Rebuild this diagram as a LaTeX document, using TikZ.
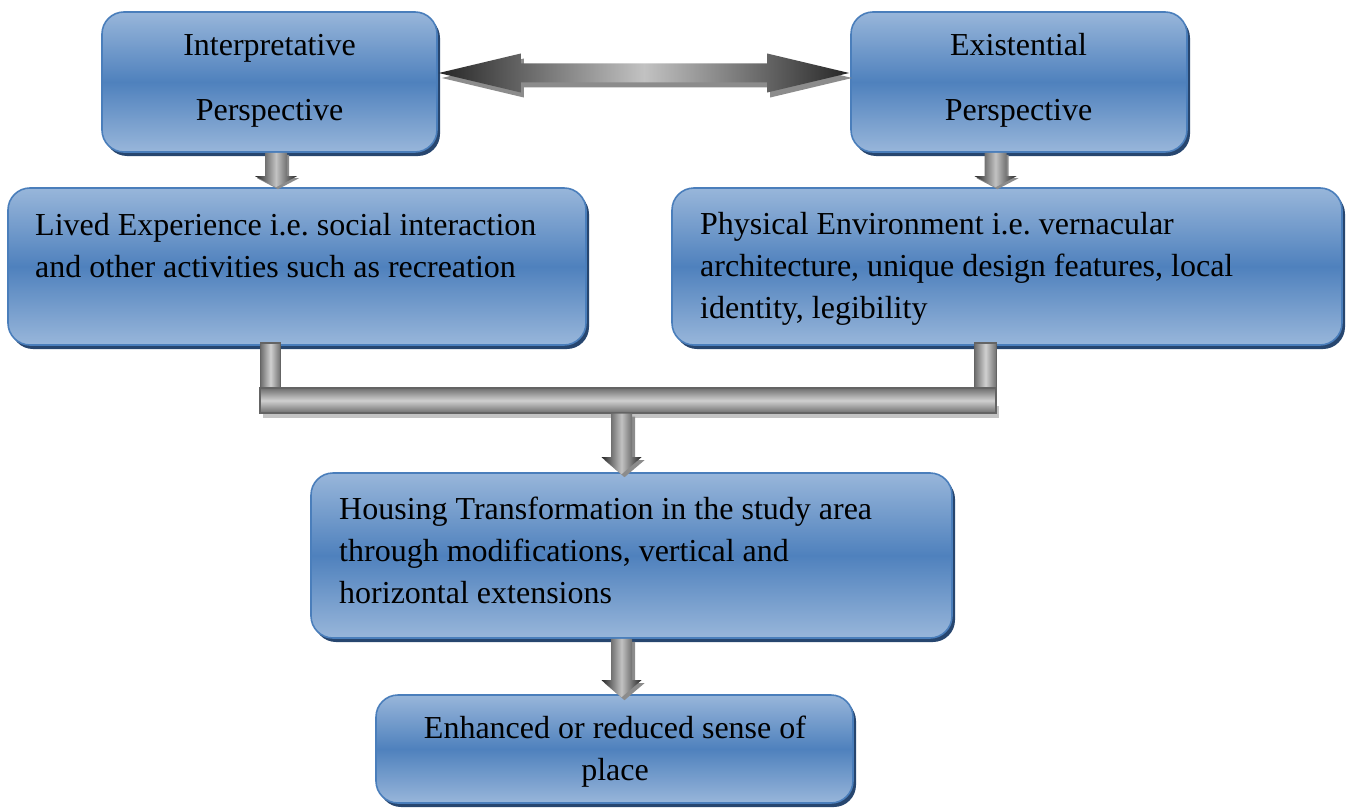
\documentclass[tikz,border=0pt]{standalone}
\usepackage{fontspec}
\setmainfont{Liberation Serif}
\usetikzlibrary{calc,shadows}
\frenchspacing

\definecolor{boxlight}{HTML}{98B6DA}
\definecolor{boxdark}{HTML}{4F81BD}
\definecolor{boxedge}{HTML}{4A7EBB}
\definecolor{boxshadow}{HTML}{27466F}
\definecolor{arrowdark}{HTML}{262626}
\definecolor{arrowlight}{HTML}{C2C2C2}
\definecolor{arrowshadow}{HTML}{8C8C8C}
\definecolor{bardark}{HTML}{6E6E6E}
\definecolor{barlight}{HTML}{D0D0D0}
\definecolor{baredge}{HTML}{646464}
\definecolor{barshadow}{HTML}{C4C4C4}

\tikzset{
  flowbox/.style={rounded corners=22pt, draw=boxedge, line width=1.6pt,
    top color=boxlight, bottom color=boxlight, middle color=boxdark,
    inner sep=0pt,
    drop shadow={shadow xshift=3pt, shadow yshift=-4pt, fill=boxshadow, opacity=1}},
  boxtext/.style={font=\fontsize{32}{42}\selectfont, inner sep=0pt, text=black},
  blockarrow/.style={left color=arrowdark, right color=arrowdark, middle color=arrowlight},
  blockshadow/.style={fill=arrowshadow},
  barpiece/.style={draw=baredge, line width=1.4pt},
}

% downward block arrow: options, start point, tip, shaft half width, head half width, head length
\newcommand\blockdown[6]{%
  \path[#1] let \p1=(#2), \p2=(#3) in
    (\x2-#4,\y1) -- (\x2+#4,\y1) -- (\x2+#4,\y2+#6) -- (\x2+#5,\y2+#6)
    -- (\x2,\y2) -- (\x2-#5,\y2+#6) -- (\x2-#4,\y2+#6) -- cycle;}

% horizontal double-headed block arrow between two tips
\newcommand\doublearrow[3]{%
  \path[#1] let \p1=(#2), \p2=(#3) in
    (\p1) -- (\x1+82pt,\y1+19.5pt) -- (\x1+82pt,\y1+9.5pt) -- (\x2-82pt,\y2+9.5pt)
    -- (\x2-82pt,\y2+19.5pt) -- (\p2) -- (\x2-82pt,\y2-19.5pt) -- (\x2-82pt,\y2-9.5pt)
    -- (\x1+82pt,\y1-9.5pt) -- (\x1+82pt,\y1-19.5pt) -- cycle;}

\begin{document}
\begin{tikzpicture}[x=1pt,y=-1pt]
  \useasboundingbox (0,0) rectangle (1347,808);

  % boxes
  \node[flowbox, minimum width=335pt, minimum height=140pt] (interp) at (269.5,82) {};
  \node[flowbox, minimum width=336pt, minimum height=140pt] (exist) at (1019,82) {};
  \node[flowbox, minimum width=578pt, minimum height=157pt] (lived) at (297,266.5) {};
  \node[flowbox, minimum width=670pt, minimum height=157pt] (phys) at (1007,266.5) {};
  \node[flowbox, minimum width=641pt, minimum height=165pt] (housing) at (631.5,555.5) {};
  \node[flowbox, minimum width=477pt, minimum height=108pt] (sense) at (614.5,749) {};

  % texts
  \node[boxtext, anchor=base] (interpA) at (269.5,56) {Interpretative};
  \node[boxtext, anchor=base] (interpB) at (269.5,120) {Perspective};
  \node[boxtext, anchor=base] (existA) at (1018.5,56) {Existential};
  \node[boxtext, anchor=base] (existB) at (1018.5,120) {Perspective};
  \node[boxtext, anchor=north west, align=left] (livedtext) at (35,213)
    {Lived Experience i.e. social interaction\\and other activities such as recreation};
  \node[boxtext, anchor=north west, align=left] (physictext) at (700,212)
    {Physical Environment i.e. vernacular\\architecture, unique design features, local\\identity, legibility};
  \node[boxtext, anchor=north west, align=left] (housingtext) at (339,497)
    {Housing Transformation in the study area\\through modifications, vertical and\\horizontal extensions};
  \node[boxtext, anchor=north, align=center] (sensetext) at (615,716)
    {Enhanced or reduced sense of\\place};

  % double arrow between the two perspectives
  \doublearrow{blockshadow, transform canvas={xshift=3pt, yshift=-5pt}}
    {$(interp.east)+(1,-9)$}{$(exist.west)+(-1,-9)$}
  \doublearrow{blockarrow}
    {$(interp.east)+(1,-9)$}{$(exist.west)+(-1,-9)$}

  % perspectives down to their themes
  \coordinate (a1) at ($(interp.south)+(6.5,0)$);
  \coordinate (a2) at ($(exist.south)+(-23.5,0)$);
  \blockdown{blockshadow, transform canvas={xshift=2pt, yshift=-2pt}}{a1}{a1 |- lived.north}{11pt}{21pt}{11pt}
  \blockdown{blockarrow}{a1}{a1 |- lived.north}{11pt}{21pt}{11pt}
  \blockdown{blockshadow, transform canvas={xshift=2pt, yshift=-2pt}}{a2}{a2 |- phys.north}{11pt}{21pt}{11pt}
  \blockdown{blockarrow}{a2}{a2 |- phys.north}{11pt}{21pt}{11pt}

  % joining bar
  \fill[barshadow] (263,406) rectangle (999,418);
  \node[barpiece, minimum width=736pt, minimum height=25pt, inner sep=0pt,
    top color=bardark, bottom color=bardark, middle color=barlight] (bar) at (628,400.5) {};
  \coordinate (j1) at ($(lived.south)+(-26.5,-3)$);
  \coordinate (j2) at ($(phys.south)+(-21.5,-3)$);
  \shade[barpiece, left color=bardark, right color=bardark, middle color=barlight]
    ($(j1)+(-10,0)$) rectangle ($(j1 |- bar.north)+(10,0)$);
  \shade[barpiece, left color=bardark, right color=bardark, middle color=barlight]
    ($(j2)+(-11,0)$) rectangle ($(j2 |- bar.north)+(11,0)$);

  % bar down to housing, housing down to sense of place
  \coordinate (a3) at ($(bar.south)+(-6.5,0)$);
  \coordinate (a4) at ($(housing.south)+(-10,0)$);
  \blockdown{blockshadow, transform canvas={xshift=3pt, yshift=-3pt}}{a3}{$(a3 |- housing.north)+(0,2)$}{10.5pt}{20pt}{17pt}
  \blockdown{blockarrow}{a3}{$(a3 |- housing.north)+(0,2)$}{10.5pt}{20pt}{17pt}
  \blockdown{blockshadow, transform canvas={xshift=3pt, yshift=-3pt}}{a4}{$(a4 |- sense.north)+(0,3)$}{10.5pt}{20pt}{17pt}
  \blockdown{blockarrow}{a4}{$(a4 |- sense.north)+(0,3)$}{10.5pt}{20pt}{17pt}
\end{tikzpicture}
\end{document}
